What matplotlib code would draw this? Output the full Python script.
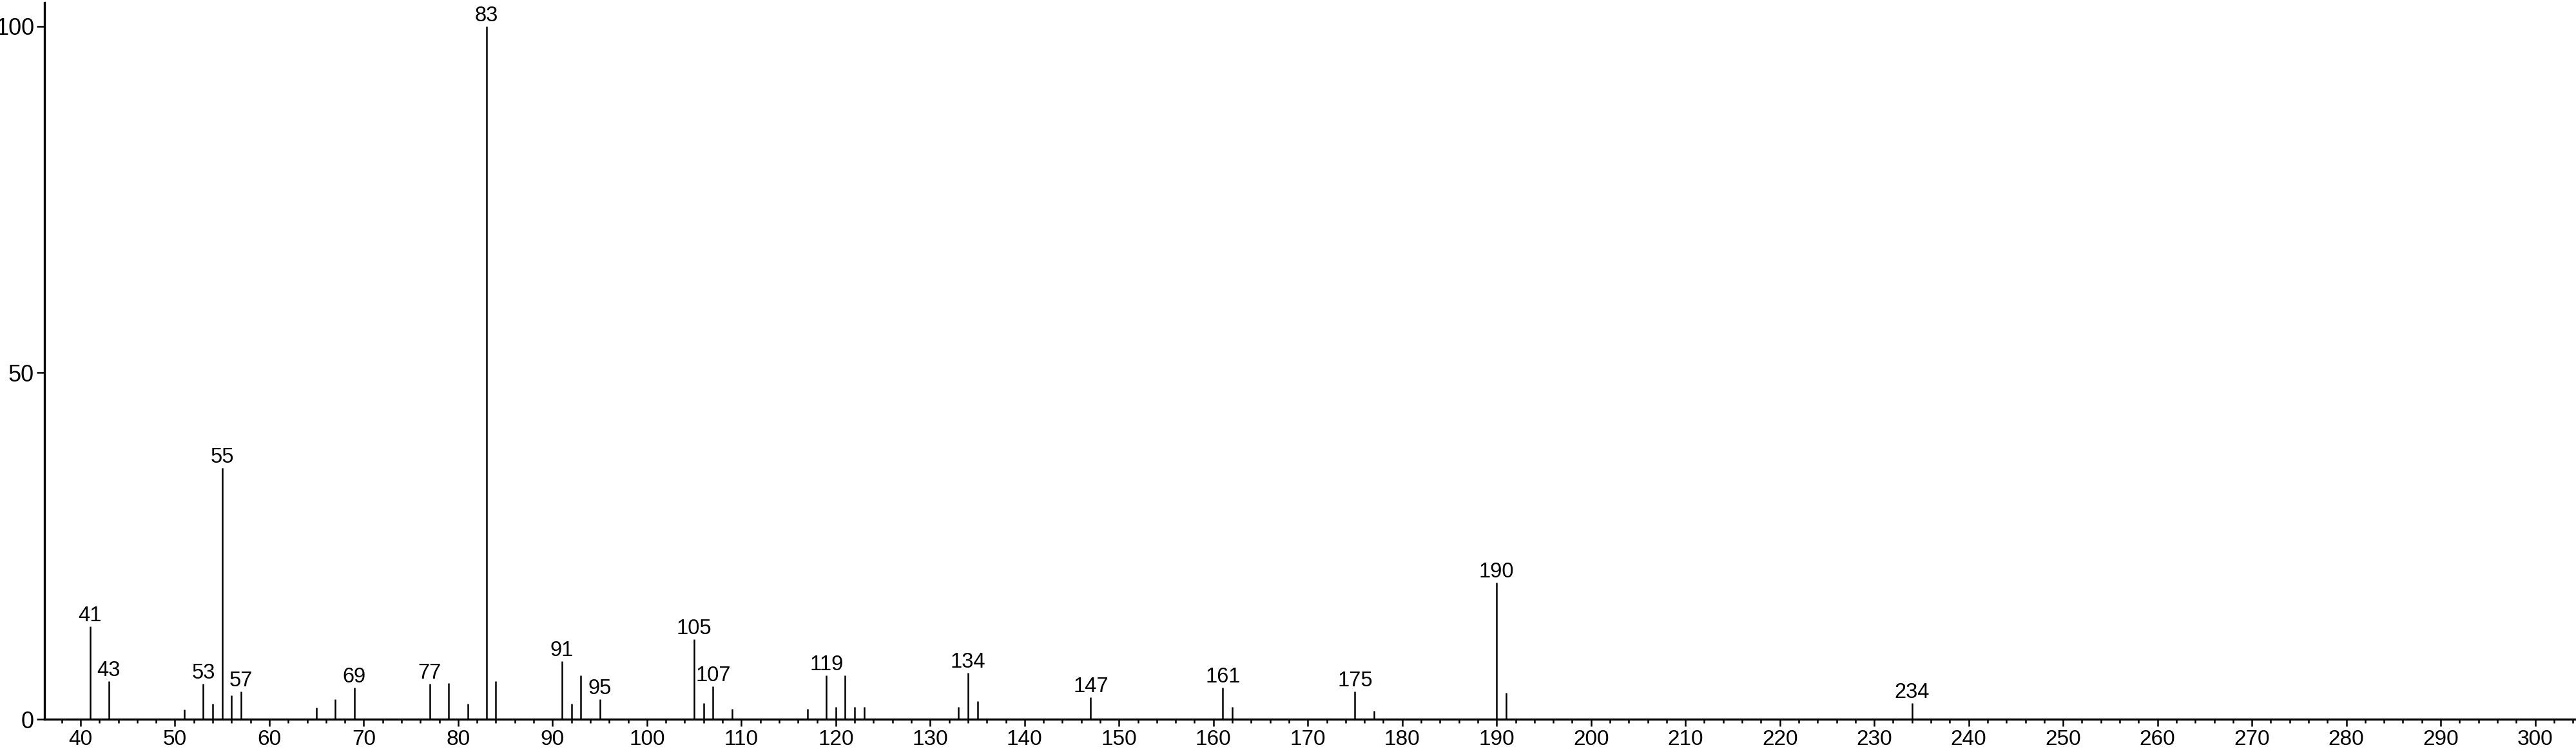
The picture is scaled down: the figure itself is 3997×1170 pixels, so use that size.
import matplotlib
matplotlib.use("Agg")
import matplotlib.pyplot as plt
from matplotlib.ticker import MultipleLocator

mz = [41, 43, 51, 53, 54, 55, 56, 57, 65, 67, 69, 77, 79, 81, 83, 84, 91, 92, 93, 95,
      105, 106, 107, 109, 117, 119, 120, 121, 122, 123, 133, 134, 135, 147, 161, 162,
      175, 177, 190, 191, 234]
intensity = [13.4, 5.5, 1.4, 5.1, 2.2, 36.3, 3.4, 4.0, 1.7, 2.9, 4.6, 5.1, 5.2, 2.2, 100.0, 5.5,
             8.4, 2.2, 6.3, 2.9, 11.5, 2.3, 4.7, 1.5, 1.5, 6.3, 1.8, 6.3, 1.8, 1.8, 1.8, 6.7,
             2.6, 3.2, 4.6, 1.8, 4.0, 1.2, 19.7, 3.8, 2.3]
labeled = [41, 43, 53, 55, 57, 69, 77, 83, 91, 95, 105, 107, 119, 134, 147, 161, 175, 190, 234]
x_ticks = list(range(40, 301, 10))
y_ticks = [0, 50, 100]

W, H = 3998, 1170
fig = plt.figure(figsize=(W / 100, H / 100), dpi=100)
ax = fig.add_axes([69 / W, (H - 1116) / H, (W - 69) / W, (1116 - 4) / H])

ax.vlines(mz, 0, intensity, color="black", linewidth=1.8, zorder=2)
for m, v in zip(mz, intensity):
    if m in labeled:
        ax.annotate(str(m), xy=(m, v), xytext=(0, 8), textcoords="offset pixels",
                    ha="center", va="baseline", fontsize=23.5,
                    family=["Liberation Sans", "DejaVu Sans"])

ax.set_xlim(36.18, 304.4)
ax.set_ylim(0, 103.4)
ax.set_xticks(x_ticks)
ax.xaxis.set_minor_locator(MultipleLocator(2))
ax.set_yticks(y_ticks)

for s in ["top", "right"]:
    ax.spines[s].set_visible(False)
for s in ["left", "bottom"]:
    ax.spines[s].set_linewidth(2.4)
    ax.spines[s].set_zorder(3)

ax.tick_params(axis="x", which="major", length=8, width=1.8, pad=3.6)
ax.tick_params(axis="x", which="minor", length=4.5, width=1.8)
ax.tick_params(axis="y", which="major", length=8.6, width=1.8, pad=2.9)
for lab in ax.get_xticklabels():
    lab.set_family(["Liberation Sans", "DejaVu Sans"])
    lab.set_fontsize(24)
for lab in ax.get_yticklabels():
    lab.set_family(["Liberation Sans Narrow", "Liberation Sans", "DejaVu Sans"])
    lab.set_fontsize(26)

fig.savefig("out.png", dpi=100, facecolor="white")
